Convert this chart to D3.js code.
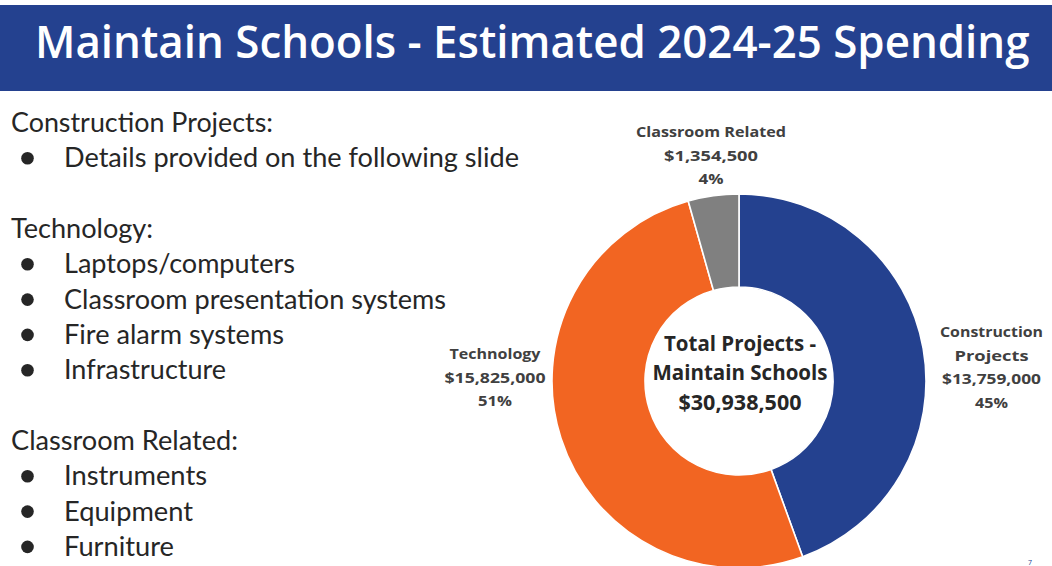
<!DOCTYPE html>
<html><head><meta charset="utf-8">
<script src="https://cdn.jsdelivr.net/npm/d3@7/dist/d3.min.js"></script>
<style>html,body{margin:0;padding:0;background:#fff;}svg{display:block;}</style>
</head><body>
<script>
const titleText = "Maintain Schools - Estimated 2024-25 Spending";
const categories = ["Construction Projects", "Technology", "Classroom Related"];
const values = [13759000, 15825000, 1354500];
const valueLabels = ["$13,759,000", "$15,825,000", "$1,354,500"];
const pctLabels = ["45%", "51%", "4%"];
const labelNameLines = [["Construction", "Projects"], ["Technology"], ["Classroom Related"]];
const colors = ["#24418F", "#F26522", "#808080"];
const centerLines = ["Total Projects -", "Maintain Schools", "$30,938,500"];
const bodySections = [
  {head: "Construction Projects:", items: ["Details provided on the following slide"]},
  {head: "Technology:", items: ["Laptops/computers", "Classroom presentation systems", "Fire alarm systems", "Infrastructure"]},
  {head: "Classroom Related:", items: ["Instruments", "Equipment", "Furniture"]}
];

const W = 1052, H = 566;
const svg = d3.select("body").append("svg").attr("width", W).attr("height", H);

// Title bar
svg.append("rect").attr("x", 0).attr("y", 5).attr("width", W).attr("height", 86).attr("fill", "#24418F");
const tg = svg.append("g");
const tt = tg.append("text").attr("x", 0).attr("y", 0).attr("fill", "#fff")
  .attr("font-family", "Open Sans").attr("font-weight", 600).attr("font-size", 46)
  .text(titleText);
const natW = tt.node().getComputedTextLength();
tg.attr("transform", `translate(35,58) scale(${995 / natW},1)`);

// Body text
const bodyWidths = {
  "Construction Projects:": 262, "Details provided on the following slide": 455,
  "Technology:": 142, "Laptops/computers": 231, "Classroom presentation systems": 382,
  "Fire alarm systems": 220, "Infrastructure": 162, "Classroom Related:": 227,
  "Instruments": 143, "Equipment": 129, "Furniture": 110
};
const headY = [132, 238, 450];
const lineStep = 35.3;
const body = svg.append("g").attr("font-family", "Lato").attr("font-size", 26).attr("fill", "#262626");
bodySections.forEach((s, i) => {
  body.append("text").attr("x", 11).attr("y", headY[i]).text(s.head)
    .attr("textLength", bodyWidths[s.head]).attr("lengthAdjust", "spacingAndGlyphs");
  s.items.forEach((it, j) => {
    const y = headY[i] + lineStep * (j + 1);
    body.append("circle").attr("cx", 27.5).attr("cy", y - 9).attr("r", 6.3).attr("fill", "#262626");
    body.append("text").attr("x", 64).attr("y", y).text(it)
      .attr("textLength", bodyWidths[it]).attr("lengthAdjust", "spacingAndGlyphs");
  });
});

// Donut
const cx = 739, cy = 381, rOut = 187, rIn = 94;
const pie = d3.pie().sort(null).value(d => d)(values);
const arc = d3.arc().innerRadius(rIn).outerRadius(rOut);
const g = svg.append("g").attr("transform", `translate(${cx},${cy})`);
g.selectAll("path").data(pie).join("path")
  .attr("d", arc).attr("fill", (d, i) => colors[i])
  .attr("stroke", "#fff").attr("stroke-width", 1.6);

// Center text
const centerW = [152, 175, 123];
const centerY = [351, 380, 410];
centerLines.forEach((t, i) => {
  svg.append("text").attr("x", cx + 1).attr("y", centerY[i]).attr("text-anchor", "middle")
    .attr("font-family", "Open Sans").attr("font-weight", 700).attr("font-size", 21)
    .attr("fill", "#262626").attr("textLength", centerW[i]).attr("lengthAdjust", "spacingAndGlyphs")
    .text(t);
});

// Slice labels
const labelPos = [
  {x: 991.5, y: 337, w: [103, 74, 99, 33]},
  {x: 495, y: 359, w: [91, 101, 34]},
  {x: 711, y: 137, w: [150, 94, 25]}
];
categories.forEach((c, i) => {
  const lines = labelNameLines[i].concat([valueLabels[i], pctLabels[i]]);
  lines.forEach((t, j) => {
    svg.append("text").attr("x", labelPos[i].x).attr("y", labelPos[i].y + j * 23.7)
      .attr("text-anchor", "middle").attr("font-family", "Open Sans").attr("font-weight", 700)
      .attr("font-size", 14.5).attr("fill", "#404040")
      .attr("textLength", labelPos[i].w[j]).attr("lengthAdjust", "spacingAndGlyphs")
      .text(t);
  });
});

// page number mark
svg.append("text").attr("x", 1030).attr("y", 565).attr("text-anchor", "middle")
  .attr("font-family", "Open Sans").attr("font-size", 7).attr("fill", "#24418F").text("7");
</script>
</body></html>
